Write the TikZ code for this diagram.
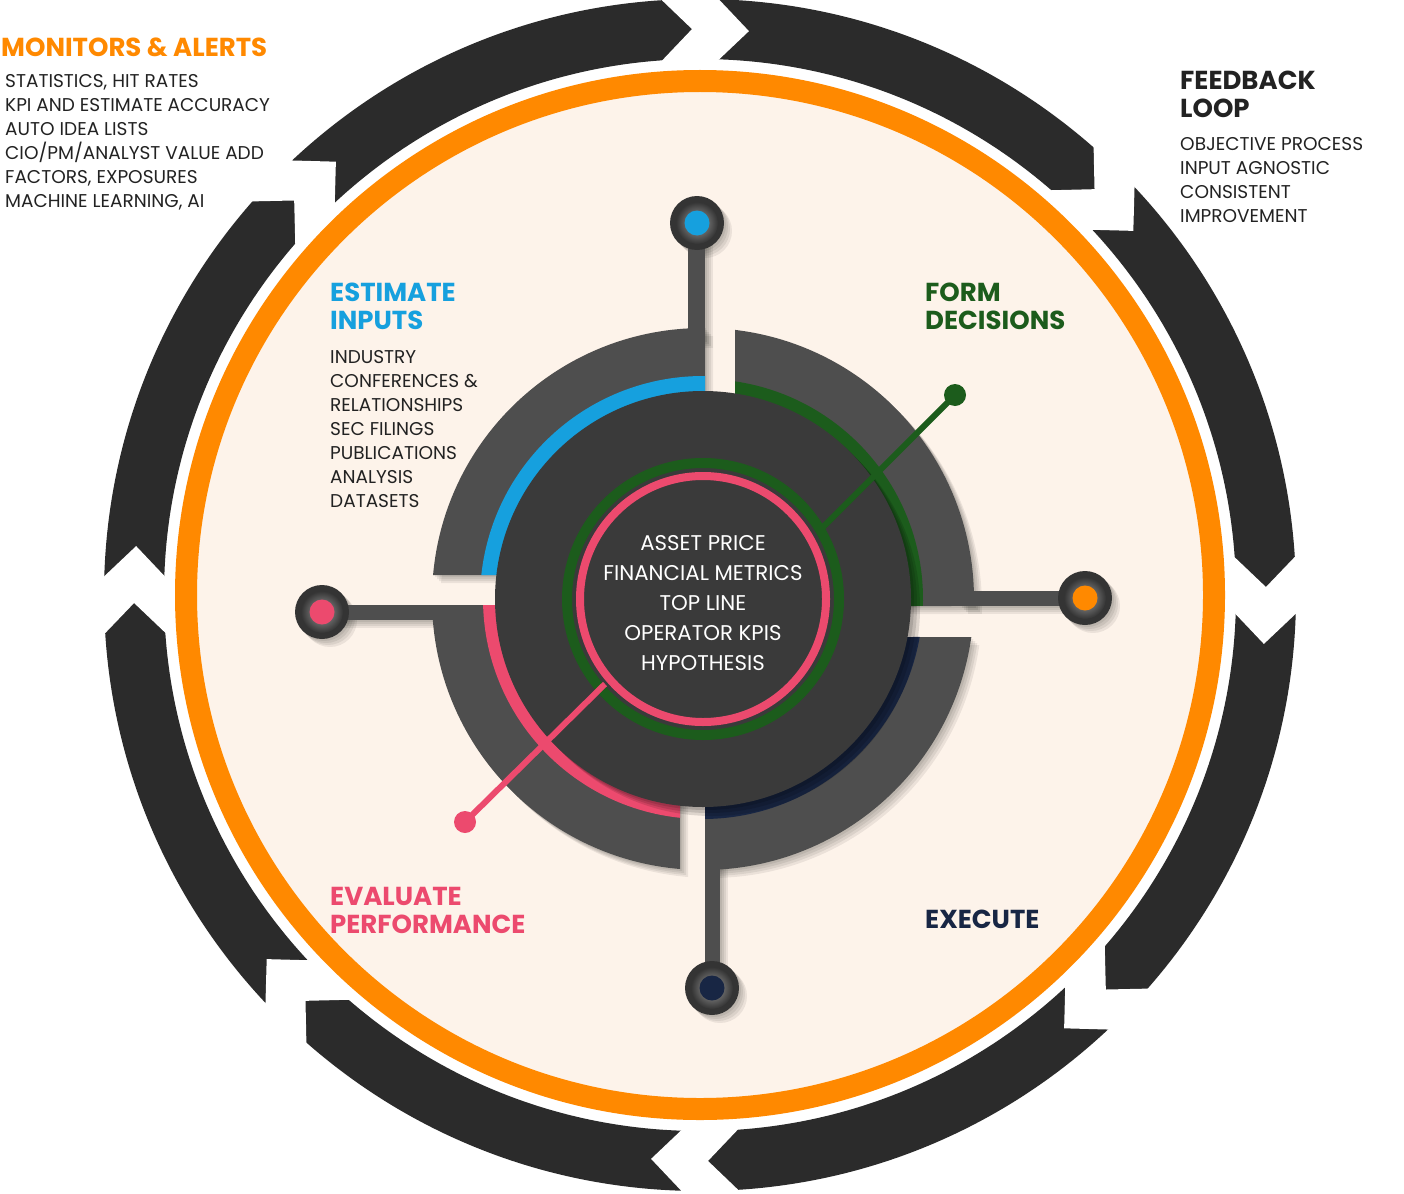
\documentclass[tikz,border=0pt]{standalone}
\usepackage{fontspec}
\setmainfont{Poppins}
\usetikzlibrary{calc}

\definecolor{ringblack}{RGB}{43,43,43}
\definecolor{cream}{RGB}{253,243,234}
\definecolor{orng}{RGB}{255,137,0}
\definecolor{piecegray}{RGB}{78,78,78}
\definecolor{discgray}{RGB}{58,58,58}
\definecolor{knobdark}{RGB}{52,52,52}
\definecolor{bluec}{RGB}{22,160,222}
\definecolor{greenc}{RGB}{28,92,28}
\definecolor{pinkc}{RGB}{236,74,110}
\definecolor{navyc}{RGB}{24,38,68}
\definecolor{textdark}{RGB}{34,34,34}

% annular sector between two cut angles given as functions of the radius
\newcommand\sect[4]{({#1(#3)}:#3) arc[start angle={#1(#3)}, end angle={#2(#3)}, radius=#3] -- ({#2(#4)}:#4) arc[start angle={#2(#4)}, end angle={#1(#4)}, radius=#4] -- cycle}

\begin{document}
\begin{tikzpicture}[x=1pt,y=-1pt,
  declare function={
    ula(\r)=180+asin(24/\r); ulb(\r)=270+asin(2/\r);
    ura(\r)=270+asin(32/\r); urb(\r)=360+asin(7/\r);
    lra(\r)=asin(38/\r);     lrb(\r)=90-asin(2/\r);
    lla(\r)=90+asin(23/\r);  llb(\r)=180-asin(6/\r);
  },
  bodytext/.style={font=\fontsize{18.5}{24}\selectfont, text=textdark, inner sep=0pt, anchor=base west},
  headtext/.style={font=\fontsize{26}{28}\selectfont\bfseries, inner sep=0pt, anchor=base west},
  centertext/.style={font=\fontsize{21.3}{30}\selectfont, text=white, inner sep=0pt, anchor=base},
  shadowlayer/.style={fill=black, opacity=0.07},
]
\useasboundingbox (0,0) rectangle (1404,1193);
\fill[white] (0,0) rectangle (1404,1193);

% ---------- outer cycle ----------
\begin{scope}[shift={(700,595)}]
  \coordinate (O) at (0,0);
  \fill[cream] (O) circle (514);
  \draw[orng, line width=22] (O) circle (514);
  \fill[ringblack, even odd rule] (O) circle (596) (O) circle (536);
  % chevron cuts between the eight arrow segments
  \foreach \p in {0,45,...,315}{
    \pgfmathsetmacro\aA{\p-8/566*57.2958}
    \pgfmathsetmacro\aB{\p-44/602*57.2958}
    \pgfmathsetmacro\aC{\p+13/602*57.2958}
    \pgfmathsetmacro\aD{\p+49/566*57.2958}
    \pgfmathsetmacro\aE{\p+13/530*57.2958}
    \pgfmathsetmacro\aF{\p-44/530*57.2958}
    \fill[white] (\aA:566) -- (\aB:602) -- (\aC:602) -- (\aD:566) -- (\aE:530) -- (\aF:530) -- cycle;
  }
\end{scope}

% ---------- outer labels ----------
\node[headtext, text=orng] (monhead) at (1,57) {MONITORS \& ALERTS};
\foreach \t [count=\i] in {{STATISTICS, HIT RATES},{KPI AND ESTIMATE ACCURACY},{AUTO IDEA LISTS},{CIO/PM/ANALYST VALUE ADD},{FACTORS, EXPOSURES},{MACHINE LEARNING, AI}}
  \node[bodytext] (mon\i) at (5,{63.5+24*\i}) {\t};

\node[headtext, text=textdark] (fbhead1) at (1180,90) {FEEDBACK};
\node[headtext, text=textdark] (fbhead2) at (1180,118) {LOOP};
\foreach \t [count=\i] in {OBJECTIVE PROCESS,INPUT AGNOSTIC,CONSISTENT,IMPROVEMENT}
  \node[bodytext] (fb\i) at (1180,{126.5+24*\i}) {\t};

% ---------- stage labels ----------
\node[headtext, text=bluec] (esthead1) at (330,301) {ESTIMATE};
\node[headtext, text=bluec] (esthead2) at (330,329) {INPUTS};
\foreach \t [count=\i] in {INDUSTRY,CONFERENCES \&,RELATIONSHIPS,SEC FILINGS,PUBLICATIONS,ANALYSIS,DATASETS}
  \node[bodytext] (est\i) at (330,{339.5+24*\i}) {\t};
\node[headtext, text=greenc] (formhead1) at (925,301) {FORM};
\node[headtext, text=greenc] (formhead2) at (925,329) {DECISIONS};
\node[headtext, text=pinkc] (evalhead1) at (330,905) {EVALUATE};
\node[headtext, text=pinkc] (evalhead2) at (330,933) {PERFORMANCE};
\node[headtext, text=navyc] (exechead) at (925,928) {EXECUTE};

% ---------- shadows of the hub ----------
\foreach \s in {2,4,6,8}{
  \begin{scope}[shift={(703+\s,599+\s)}]
    \fill[shadowlayer] \sect{ula}{ulb}{271}{200};
    \fill[shadowlayer] \sect{ura}{urb}{271}{200};
    \fill[shadowlayer] \sect{lra}{lrb}{271}{200};
    \fill[shadowlayer] \sect{lla}{llb}{271}{200};
  \end{scope}
  \fill[shadowlayer] (688+\s,225+\s) rectangle (705+\s,340+\s);
  \fill[shadowlayer] (960+\s,591+\s) rectangle (1085+\s,606+\s);
  \fill[shadowlayer] (705+\s,860+\s) rectangle (720+\s,988+\s);
  \fill[shadowlayer] (322+\s,605+\s) rectangle (445+\s,620+\s);
  \foreach \x/\y in {697/223,1085/598,712/988,322/612}
    \fill[shadowlayer] (\x+\s,\y+\s) circle (27);
}

% ---------- stems ----------
\fill[piecegray] (688,225) rectangle (705,340);
\fill[piecegray] (960,591) rectangle (1085,606);
\fill[piecegray] (705,860) rectangle (720,988);
\fill[piecegray] (322,605) rectangle (445,620);

% ---------- quarter pieces with coloured bands ----------
\begin{scope}[shift={(703,599)}]
  \coordinate (H) at (0,0);
  \fill[piecegray] \sect{ula}{ulb}{271}{200};
  \fill[piecegray] \sect{ura}{urb}{271}{200};
  \fill[piecegray] \sect{lra}{lrb}{271}{200};
  \fill[piecegray] \sect{lla}{llb}{271}{200};
  \fill[bluec]  \sect{ula}{ulb}{223}{200};
  \fill[greenc] \sect{ura}{urb}{220}{200};
  \fill[navyc]  \sect{lra}{lrb}{220}{200};
  \fill[pinkc]  \sect{lla}{llb}{220}{200};
  % central disc
  \foreach \s in {3,6,9}
    \fill[black, opacity=0.12] (\s,\s) circle (208);
  \fill[discgray] (H) circle (208);
  \draw[greenc, line width=10] (H) circle (136);
  \draw[pinkc, line width=8] (H) circle (123);
\end{scope}

% ---------- pointer lines ----------
\coordinate (gstart) at (823,527);
\node[circle, fill=greenc, minimum size=22, inner sep=0pt] (gdot) at (955,395) {};
\draw[greenc, line width=6] (gstart) -- (gdot.center);
\coordinate (pstart) at (605,684);
\node[circle, fill=pinkc, minimum size=22, inner sep=0pt] (pdot) at (465,822) {};
\draw[pinkc, line width=6] (pstart) -- (pdot.center);

% ---------- knobs ----------
\foreach \x/\y/\c/\n in {697/223/bluec/kblue,1085/598/orng/korange,712/988/navyc/knavy,322/612/pinkc/kpink}{
  \fill[knobdark] (\x,\y) circle (27);
  \shade[inner color=gray!75, outer color=knobdark] (\x,\y) circle (21);
  \node[circle, fill=\c, minimum size=25, inner sep=0pt] (\n) at (\x,\y) {};
}

% ---------- hub text ----------
\foreach \t [count=\i] in {ASSET PRICE,FINANCIAL METRICS,TOP LINE,OPERATOR KPIS,HYPOTHESIS}
  \node[centertext] (hub\i) at (703,{520.5+30*\i}) {\t};
\end{tikzpicture}
\end{document}
